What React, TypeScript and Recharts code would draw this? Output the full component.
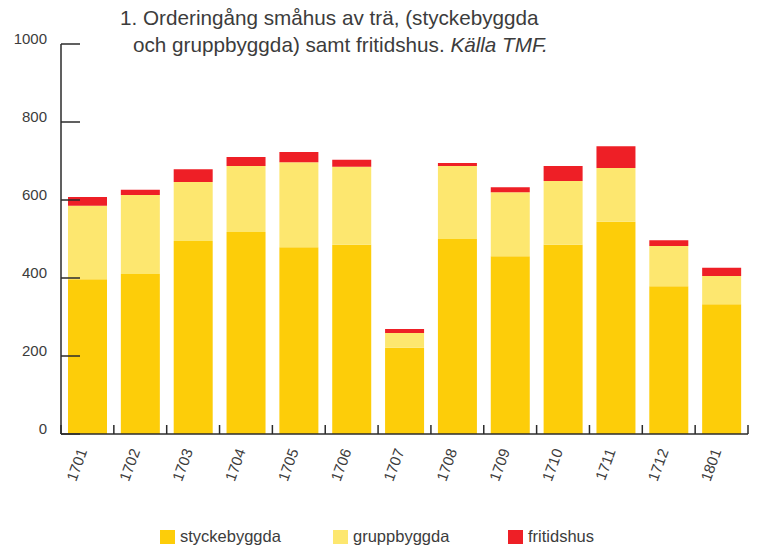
import React from "react";
import { BarChart, Bar, XAxis, YAxis } from "recharts";

const years = ["1701", "1702", "1703", "1704", "1705", "1706", "1707", "1708", "1709", "1710", "1711", "1712", "1801"];
const styckebyggda = [397, 410, 495, 518, 479, 485, 221, 500, 456, 485, 544, 379, 333];
const gruppbyggda = [188, 203, 151, 169, 218, 200, 38, 187, 164, 164, 138, 103, 72];
const fritidshus = [23, 13, 33, 23, 26, 18, 10, 8, 13, 38, 56, 15, 21];
const yTicks = [0, 200, 400, 600, 800, 1000];

const series = [
  { key: "styckebyggda", color: "#FDCD09" },
  { key: "gruppbyggda", color: "#FDE76F" },
  { key: "fritidshus", color: "#EE1F26" },
];

const data = years.map((y, i) => ({
  year: y,
  styckebyggda: styckebyggda[i],
  gruppbyggda: gruppbyggda[i],
  fritidshus: fritidshus[i],
}));

const W = 758;
const H = 546;
const LEFT = 61;
const RIGHT = 10;
const TOP = 44;
const X_AXIS_H = 40;
const BOTTOM = 112 - X_AXIS_H;
const BAND = (W - LEFT - RIGHT) / years.length;
const AXIS = "#2b2b2b";
const TEXT = "#3c3c3c";
const FONT = "'Liberation Sans', Arial, sans-serif";

function YTick(props: any) {
  const { x, y, payload } = props;
  return (
    <g>
      <line x1={x} x2={x + 19} y1={y} y2={y} stroke={AXIS} strokeWidth={1.5} />
      <text x={x - 14} y={y} textAnchor="end" fill={TEXT} fontSize={15} fontFamily={FONT}>
        {payload.value}
      </text>
    </g>
  );
}

function XTick(props: any) {
  const { x, y, payload, index } = props;
  return (
    <g>
      <line x1={x - BAND / 2} x2={x - BAND / 2} y1={y} y2={y - 9} stroke={AXIS} strokeWidth={1.5} />
      {index === years.length - 1 && (
        <line x1={x + BAND / 2} x2={x + BAND / 2} y1={y} y2={y - 9} stroke={AXIS} strokeWidth={1.5} />
      )}
      <text
        transform={`translate(${x},${y + 17}) rotate(-70)`}
        textAnchor="end"
        fill={TEXT}
        fontSize={15}
        fontFamily={FONT}
      >
        {payload.value}
      </text>
    </g>
  );
}

export default function App() {
  const legendPos = [160, 333, 508];
  return (
    <div style={{ position: "absolute", left: 0, top: 0, width: W, height: H, background: "#fff" }}>
      <BarChart
        width={W}
        height={H}
        data={data}
        margin={{ top: TOP, right: RIGHT, bottom: BOTTOM, left: 0 }}
        barSize={39}
      >
        <XAxis
          dataKey="year"
          height={X_AXIS_H}
          interval={0}
          tickSize={0}
          tickMargin={0}
          tickLine={false}
          axisLine={{ stroke: AXIS, strokeWidth: 1.5 }}
          tick={<XTick />}
        />
        <YAxis
          width={LEFT}
          domain={[0, 1000]}
          ticks={yTicks}
          tickSize={0}
          tickMargin={0}
          tickLine={false}
          axisLine={{ stroke: AXIS, strokeWidth: 1.5 }}
          tick={<YTick />}
        />
        {series.map((s) => (
          <Bar key={s.key} dataKey={s.key} stackId="a" fill={s.color} isAnimationActive={false} />
        ))}
      </BarChart>
      <svg
        width={W}
        height={H}
        style={{ position: "absolute", left: 0, top: 0, pointerEvents: "none" }}
      >
        <text x={120} y={25} fontSize={20.7} fill={TEXT} fontFamily={FONT}>
          1. Orderingång småhus av trä, (styckebyggda
        </text>
        <text x={133} y={52} fontSize={20.7} fill={TEXT} fontFamily={FONT}>
          och gruppbyggda) samt fritidshus. <tspan fontStyle="italic">Källa TMF.</tspan>
        </text>
        {series.map((s, i) => (
          <g key={s.key}>
            <rect x={legendPos[i]} y={530} width={15} height={14} fill={s.color} />
            <text x={legendPos[i] + 20} y={542} fontSize={16.5} fill={TEXT} fontFamily={FONT}>
              {s.key}
            </text>
          </g>
        ))}
      </svg>
    </div>
  );
}
